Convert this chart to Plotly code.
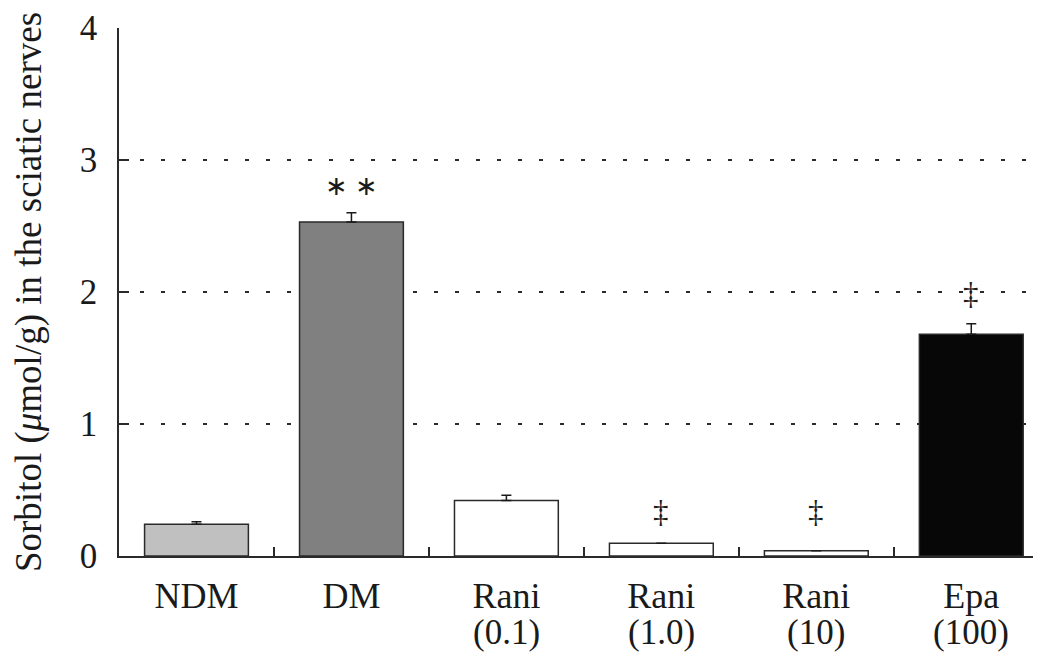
import plotly.graph_objects as go

groups = ["NDM", "DM", "Rani (0.1)", "Rani (1.0)", "Rani (10)", "Epa (100)"]
tick_labels = ["NDM", "DM", "Rani", "Rani", "Rani", "Epa"]
doses = ["", "", "(0.1)", "(1.0)", "(10)", "(100)"]
values = [0.24, 2.53, 0.42, 0.096, 0.04, 1.68]
errors = [0.02, 0.07, 0.04, 0.0, 0.0, 0.08]
colors = ["#c0c0c0", "#808080", "#ffffff", "#ffffff", "#ffffff", "#070707"]
marks = ["", "∗ ∗", "", "‡", "‡", "‡"]
mark_y = [0, 2.80, 0, 0.34, 0.34, 1.99]
y_ticks = [0, 1, 2, 3, 4]

font = "Liberation Serif"
ink = "#1a1a1a"

fig = go.Figure()
fig.add_trace(go.Bar(
    x=groups, y=values, width=0.67,
    marker=dict(color=colors, line=dict(color="#2a2a2a", width=1.5)),
    error_y=dict(type="data", array=errors, arrayminus=[0]*len(errors),
                 symmetric=False, color=ink, thickness=1.5, width=5),
))

for g, m, yv in zip(groups, marks, mark_y):
    if m:
        size = 27 if "∗" in m else 31
        fig.add_annotation(x=g, y=yv, text=m, showarrow=False,
                           font=dict(family=font, size=size, color=ink))

for g, d in zip(groups, doses):
    if d:
        fig.add_annotation(x=g, y=0, yref="paper", text=d, showarrow=False,
                           yanchor="top", yshift=-55,
                           font=dict(family=font, size=35, color=ink))

fig.update_layout(
    width=1033, height=644,
    margin=dict(l=111, r=0, t=20, b=96),
    paper_bgcolor="white", plot_bgcolor="white",
    showlegend=False,
    font=dict(family=font, color=ink),
)
fig.update_xaxes(
    range=[-0.5, 5.45], showline=True, linecolor="#2a2a2a", linewidth=1.5,
    tickmode="array", tickvals=groups, ticktext=tick_labels,
    ticks="inside", tickson="boundaries", ticklen=9, tickwidth=1.5, tickcolor="#2a2a2a",
    tickfont=dict(family=font, size=36, color=ink),
    ticklabelstandoff=7, showgrid=False, automargin=False,
)
fig.update_yaxes(
    range=[0, 4], tickvals=y_ticks, showline=True, linecolor="#2a2a2a", linewidth=1.5,
    ticks="inside", ticklen=10, tickwidth=1.5, tickcolor="#2a2a2a",
    tickfont=dict(family=font, size=35, color=ink), ticklabelstandoff=13,
    showgrid=True, gridcolor="#2a2a2a", gridwidth=2, griddash="4px,17px",
    zeroline=False, automargin=False,
    title=dict(text="Sorbitol (<i>μ</i>mol/g) in the sciatic nerves",
               font=dict(family=font, size=37, color=ink), standoff=29),
)

fig.write_html("out.html")
